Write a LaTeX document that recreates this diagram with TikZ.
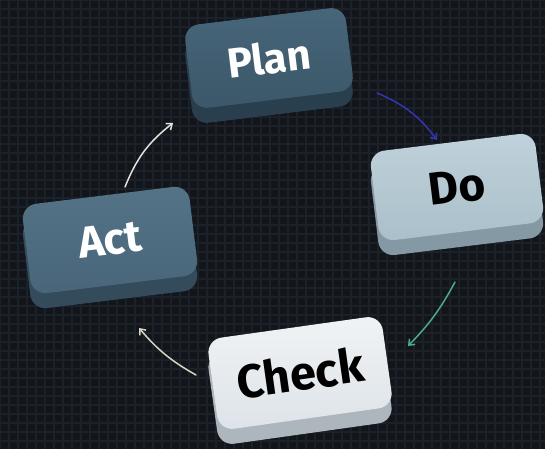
\documentclass[tikz,border=0pt]{standalone}
\usepackage{fontspec}
\setmainfont{Fira Sans}
\usetikzlibrary{arrows.meta}
\definecolor{bgc}{HTML}{12151A}
\definecolor{gridc}{HTML}{1C2028}
\definecolor{planF}{HTML}{3B5769}
\definecolor{planT}{HTML}{48667A}
\definecolor{planS}{HTML}{2A3F4E}
\definecolor{actF}{HTML}{48657A}
\definecolor{actT}{HTML}{557387}
\definecolor{actS}{HTML}{344B5B}
\definecolor{doF}{HTML}{AABFCA}
\definecolor{doT}{HTML}{C0D2DB}
\definecolor{doS}{HTML}{8499A4}
\definecolor{chF}{HTML}{DDE3E8}
\definecolor{chT}{HTML}{F0F3F5}
\definecolor{chS}{HTML}{AEB6BD}
\definecolor{aBlue}{HTML}{3535B0}
\definecolor{aTeal}{HTML}{4FA88F}
\definecolor{aBeige}{HTML}{D8D6C2}
\definecolor{aLight}{HTML}{E2E2DA}
\tikzset{
  keybox/.style n args={3}{draw=none, rounded corners=15pt, inner sep=0pt,
    top color=#2, bottom color=#1,
    preaction={fill=#3, rounded corners=15pt, transform canvas={yshift=-15pt}},
    font=\bfseries},
  cyc/.style={line width=1.5pt, -{Straight Barb[length=5pt,width=8pt]}, line cap=round}
}
\begin{document}
\begin{tikzpicture}[x=1pt,y=-1pt]
\fill[bgc] (0,0) rectangle (545,449);
\useasboundingbox (0,0) rectangle (545,449);
\foreach \i in {0,9,...,545} \draw[gridc, line width=1.3pt] (\i,0) -- (\i,449);
\foreach \j in {0,9,...,449} \draw[gridc, line width=1.3pt] (0,\j) -- (545,\j);

\node[keybox={planF}{planT}{planS}, minimum width=162pt, minimum height=84pt, rotate=7, text=white, font=\bfseries\fontsize{42}{42}\selectfont] (plan) at (269,58) {Plan};
\node[keybox={doF}{doT}{doS}, minimum width=166pt, minimum height=90pt, rotate=7, text=black, font=\bfseries\fontsize{46}{46}\selectfont] (do) at (457,187) {Do};
\node[keybox={actF}{actT}{actS}, minimum width=168pt, minimum height=90pt, rotate=7, text=white, font=\bfseries\fontsize{44}{44}\selectfont] (act) at (110,240) {Act};
\node[keybox={chF}{chT}{chS}, minimum width=176pt, minimum height=92pt, rotate=8, text=black, font=\bfseries\fontsize{47}{47}\selectfont] (check) at (300,373) {Check};

\coordinate (pd1) at (377,93);
\coordinate (pd2) at (437,140);
\coordinate (dc1) at (455,282);
\coordinate (dc2) at (408,346);
\coordinate (ca1) at (196,375);
\coordinate (ca2) at (139,328);
\coordinate (ap1) at (125,187);
\coordinate (ap2) at (173,123);
\draw[cyc, aBlue] (pd1) to[bend left=15] (pd2);
\draw[cyc, aTeal] (dc1) to[bend left=8] (dc2);
\draw[cyc, aBeige] (ca1) to[bend left=10] (ca2);
\draw[cyc, aLight] (ap1) to[bend left=15] (ap2);
\end{tikzpicture}
\end{document}
